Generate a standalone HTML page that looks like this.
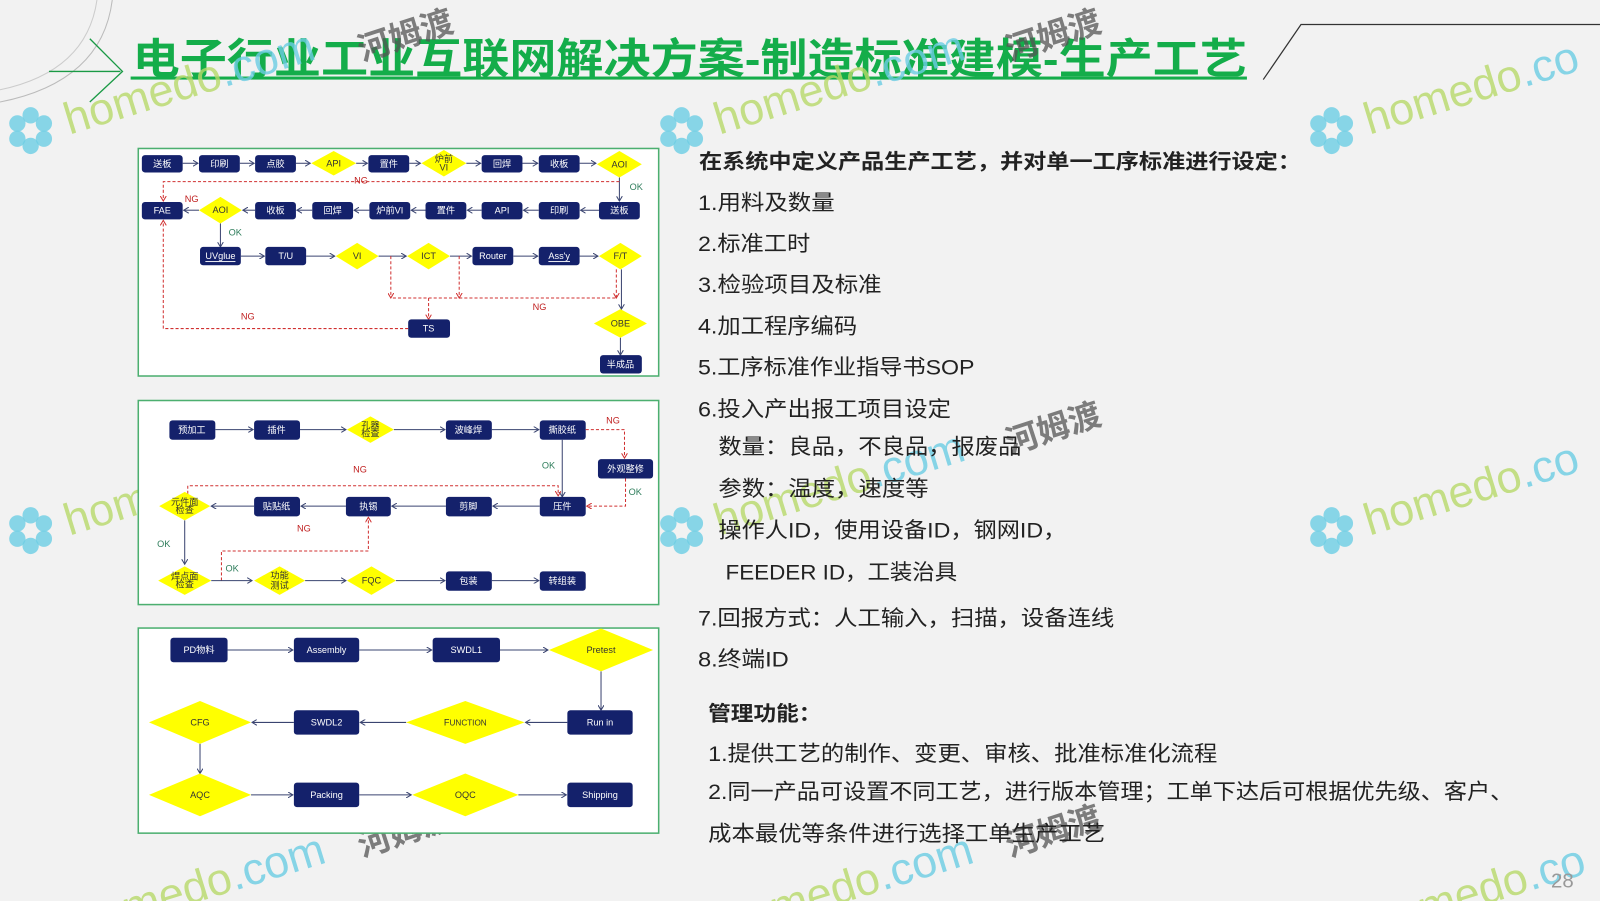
<!DOCTYPE html>
<html><head><meta charset="utf-8"><style>
html,body{margin:0;padding:0;background:#f2f2f2;}
svg{display:block}
text{font-family:"Liberation Sans","Noto Sans CJK SC",sans-serif;}
.n{fill:#14216b}
.nt{fill:#fff;font-size:9px;text-anchor:middle;dominant-baseline:central}
.d{fill:#ffff00}
.dt{fill:#333;font-size:9px;text-anchor:middle;dominant-baseline:central}
.a{stroke:#3a4470;stroke-width:1;fill:none;marker-end:url(#ar)}
.ra{stroke:#d03030;stroke-width:1;fill:none;stroke-dasharray:3,2;marker-end:url(#arr)}
.r{stroke:#d03030;stroke-width:1;fill:none;stroke-dasharray:3,2}
.ng{fill:#c02020;font-size:9px}
.ok{fill:#2e7d5b;font-size:9px}
.tx{fill:#222;font-size:21px}
.wm{font-size:44px;fill:#b8da6a;opacity:.8}
.wc{fill:#6ccde4;opacity:.8}
</style></head><body>
<svg width="1600" height="901" viewBox="0 0 1568 883" xmlns="http://www.w3.org/2000/svg">
<defs>
<marker id="ar" markerWidth="6" markerHeight="6" refX="5" refY="3" orient="auto"><path d="M0,0 L5,3 L0,6" fill="none" stroke="#3a4470"/></marker>
<marker id="arr" markerWidth="6" markerHeight="6" refX="5" refY="3" orient="auto"><path d="M0,0 L5,3 L0,6" fill="none" stroke="#d03030"/></marker>
</defs>
<rect width="1568" height="883" fill="#f2f2f2"/>
<path d="M110,0 Q100,80 0,100" stroke="#bbb" fill="none"/>
<path d="M95,0 Q85,70 0,88" stroke="#ccc" fill="none"/>
<path d="M48,70 L118,70 M88,38 L120,70 L88,100" stroke="#1a9a45" fill="none" stroke-width="1.3"/>
<path d="M1238,78 L1275,24 L1568,24" stroke="#333" fill="none" stroke-width="1.2"/>
<text x="130" y="72" font-size="41" font-weight="bold" fill="#14ad4a" textLength="1092" lengthAdjust="spacingAndGlyphs">电子行业工业互联网解决方案-制造标准建模-生产工艺</text>
<rect x="128" y="75" width="1094" height="3" fill="#14ad4a"/>

<!-- watermarks -->
<g>
<g transform="translate(30,128)"><circle r="8" cx="0" cy="-15" class="wc"/><circle r="8" cx="13" cy="-7" class="wc"/><circle r="8" cx="13" cy="8" class="wc"/><circle r="8" cx="0" cy="15" class="wc"/><circle r="8" cx="-13" cy="8" class="wc"/><circle r="8" cx="-13" cy="-7" class="wc"/></g>
<text class="wm" transform="translate(68,132) rotate(-17)">homedo<tspan fill="#6ccde4">.com</tspan></text>
<g transform="translate(668,128)"><circle r="8" cx="0" cy="-15" class="wc"/><circle r="8" cx="13" cy="-7" class="wc"/><circle r="8" cx="13" cy="8" class="wc"/><circle r="8" cx="0" cy="15" class="wc"/><circle r="8" cx="-13" cy="8" class="wc"/><circle r="8" cx="-13" cy="-7" class="wc"/></g>
<text class="wm" transform="translate(705,132) rotate(-17)">homedo<tspan fill="#6ccde4">.com</tspan></text>
<g transform="translate(1305,128)"><circle r="8" cx="0" cy="-15" class="wc"/><circle r="8" cx="13" cy="-7" class="wc"/><circle r="8" cx="13" cy="8" class="wc"/><circle r="8" cx="0" cy="15" class="wc"/><circle r="8" cx="-13" cy="8" class="wc"/><circle r="8" cx="-13" cy="-7" class="wc"/></g>
<text class="wm" transform="translate(1342,132) rotate(-17)">homedo<tspan fill="#6ccde4">.co</tspan></text>
<g transform="translate(30,520)"><circle r="8" cx="0" cy="-15" class="wc"/><circle r="8" cx="13" cy="-7" class="wc"/><circle r="8" cx="13" cy="8" class="wc"/><circle r="8" cx="0" cy="15" class="wc"/><circle r="8" cx="-13" cy="8" class="wc"/><circle r="8" cx="-13" cy="-7" class="wc"/></g>
<text class="wm" transform="translate(68,525) rotate(-17)">homedo<tspan fill="#6ccde4">.com</tspan></text>
<g transform="translate(668,520)"><circle r="8" cx="0" cy="-15" class="wc"/><circle r="8" cx="13" cy="-7" class="wc"/><circle r="8" cx="13" cy="8" class="wc"/><circle r="8" cx="0" cy="15" class="wc"/><circle r="8" cx="-13" cy="8" class="wc"/><circle r="8" cx="-13" cy="-7" class="wc"/></g>
<text class="wm" transform="translate(705,525) rotate(-17)">homedo<tspan fill="#6ccde4">.com</tspan></text>
<g transform="translate(1305,520)"><circle r="8" cx="0" cy="-15" class="wc"/><circle r="8" cx="13" cy="-7" class="wc"/><circle r="8" cx="13" cy="8" class="wc"/><circle r="8" cx="0" cy="15" class="wc"/><circle r="8" cx="-13" cy="8" class="wc"/><circle r="8" cx="-13" cy="-7" class="wc"/></g>
<text class="wm" transform="translate(1342,525) rotate(-17)">homedo<tspan fill="#6ccde4">.co</tspan></text>
<text class="wm" transform="translate(125,905) rotate(-17)">medo<tspan fill="#6ccde4">.com</tspan></text>
<text class="wm" transform="translate(760,905) rotate(-17)">medo<tspan fill="#6ccde4">.com</tspan></text>
<text class="wm" transform="translate(1395,905) rotate(-17)">medo<tspan fill="#6ccde4">.co</tspan></text>
<g fill="#555" opacity="0.75" font-size="32" font-weight="bold">
<text transform="translate(355,60) rotate(-18)">河姆渡</text>
<text transform="translate(990,60) rotate(-18)">河姆渡</text>
<text transform="translate(355,445) rotate(-18)">河姆渡</text>
<text transform="translate(990,445) rotate(-18)">河姆渡</text>
<text transform="translate(355,840) rotate(-18)">河姆渡</text>
<text transform="translate(990,840) rotate(-18)">河姆渡</text>
</g>
</g>

<!-- Diagram 1 -->
<rect x="135.5" y="145.5" width="510" height="223" fill="#fff" stroke="#4caf70" stroke-width="1.5"/>
<g>
<rect class="n" x="139" y="152" width="40" height="17" rx="3"/><text class="nt" x="159" y="160.5">送板</text>
<rect class="n" x="195" y="152" width="40" height="17" rx="3"/><text class="nt" x="215" y="160.5">印刷</text>
<rect class="n" x="250" y="152" width="40" height="17" rx="3"/><text class="nt" x="270" y="160.5">点胶</text>
<polygon class="d" points="305,160 327,148 349,160 327,172"/><text class="dt" x="327" y="160">API</text>
<rect class="n" x="361" y="152" width="40" height="17" rx="3"/><text class="nt" x="381" y="160.5">置件</text>
<polygon class="d" points="413,160 435,147 457,160 435,173"/><text class="dt" x="435" y="156" font-size="6">炉前</text><text class="dt" x="435" y="164" font-size="6">VI</text>
<rect class="n" x="472" y="152" width="40" height="17" rx="3"/><text class="nt" x="492" y="160.5">回焊</text>
<rect class="n" x="528" y="152" width="40" height="17" rx="3"/><text class="nt" x="548" y="160.5">收板</text>
<polygon class="d" points="585,161 607,148 629,161 607,174"/><text class="dt" x="607" y="161">AOI</text>
<path class="a" d="M179,160 H194"/><path class="a" d="M235,160 H249"/><path class="a" d="M290,160 H304"/><path class="a" d="M349,160 H360"/><path class="a" d="M401,160 H412"/><path class="a" d="M457,160 H471"/><path class="a" d="M512,160 H527"/><path class="a" d="M568,160 H584"/>
<path class="a" d="M607,174 V197"/>
<text class="ok" x="617" y="186">OK</text>
<path class="ra" d="M607,178 H160 V197"/>
<text class="ng" x="347" y="180">NG</text>
<rect class="n" x="139" y="198" width="40" height="17" rx="3"/><text class="nt" x="159" y="206.5">FAE</text>
<polygon class="d" points="195,206 216,193 237,206 216,219"/><text class="dt" x="216" y="206" font-size="8">AOI</text>
<rect class="n" x="250" y="198" width="40" height="17" rx="3"/><text class="nt" x="270" y="206.5">收板</text>
<rect class="n" x="306" y="198" width="40" height="17" rx="3"/><text class="nt" x="326" y="206.5">回焊</text>
<rect class="n" x="362" y="198" width="40" height="17" rx="3"/><text class="nt" x="382" y="206.5">炉前VI</text>
<rect class="n" x="417" y="198" width="40" height="17" rx="3"/><text class="nt" x="437" y="206.5">置件</text>
<rect class="n" x="472" y="198" width="40" height="17" rx="3"/><text class="nt" x="492" y="206.5">API</text>
<rect class="n" x="528" y="198" width="40" height="17" rx="3"/><text class="nt" x="548" y="206.5">印刷</text>
<rect class="n" x="587" y="198" width="40" height="17" rx="3"/><text class="nt" x="607" y="206.5">送板</text>
<path class="a" d="M587,206 H569"/><path class="a" d="M528,206 H513"/><path class="a" d="M472,206 H458"/><path class="a" d="M417,206 H403"/><path class="a" d="M362,206 H347"/><path class="a" d="M306,206 H291"/><path class="a" d="M250,206 H238"/><path class="a" d="M195,206 H180"/>
<text class="ng" x="181" y="198">NG</text>
<path class="a" d="M216,219 V242"/>
<text class="ok" x="224" y="231">OK</text>
<rect class="n" x="196" y="242" width="40" height="18" rx="3"/><text class="nt" x="216" y="251" text-decoration="underline">UVglue</text>
<rect class="n" x="260" y="242" width="40" height="18" rx="3"/><text class="nt" x="280" y="251">T/U</text>
<polygon class="d" points="329,251 350,238 371,251 350,264"/><text class="dt" x="350" y="251">VI</text>
<polygon class="d" points="399,251 420,238 441,251 420,264"/><text class="dt" x="420" y="251">ICT</text>
<rect class="n" x="463" y="242" width="40" height="18" rx="3"/><text class="nt" x="483" y="251">Router</text>
<rect class="n" x="528" y="242" width="40" height="18" rx="3"/><text class="nt" x="548" y="251" text-decoration="underline">Ass'y</text>
<polygon class="d" points="587,251 608,238 629,251 608,264"/><text class="dt" x="608" y="251">F/T</text>
<path class="a" d="M236,251 H259"/><path class="a" d="M300,251 H328"/><path class="a" d="M371,251 H398"/><path class="a" d="M441,251 H462"/><path class="a" d="M503,251 H527"/><path class="a" d="M568,251 H586"/>
<path class="a" d="M609,264 V303"/>
<path class="ra" d="M383,251 V292"/><path class="ra" d="M450,251 V292"/><path class="ra" d="M604,264 V292"/><path class="r" d="M603,292 H383"/><path class="ra" d="M420,292 V313"/>
<text class="ng" x="522" y="304">NG</text>
<rect class="n" x="400" y="313" width="41" height="18" rx="3"/><text class="nt" x="420" y="322">TS</text>
<path class="ra" d="M400,322 H160 V216"/>
<text class="ng" x="236" y="313">NG</text>
<polygon class="d" points="582,317 608,303 634,317 608,331"/><text class="dt" x="608" y="317">OBE</text>
<path class="a" d="M608,331 V348"/>
<rect class="n" x="588" y="348" width="41" height="18" rx="3"/><text class="nt" x="608" y="357">半成品</text>
</g>

<!-- Diagram 2 -->
<rect x="135.5" y="392.5" width="510" height="200" fill="#fff" stroke="#4caf70" stroke-width="1.5"/>
<g>
<rect class="n" x="166" y="412" width="45" height="19" rx="3"/><text class="nt" x="188" y="421.5" font-size="10">预加工</text>
<rect class="n" x="249" y="412" width="45" height="19" rx="3"/><text class="nt" x="271" y="421.5" font-size="10">插件</text>
<polygon class="d" points="340,421 363,408 386,421 363,434"/><text class="dt" x="363" y="417" font-size="6">孔器</text><text class="dt" x="363" y="425" font-size="6">检查</text>
<rect class="n" x="437" y="412" width="45" height="19" rx="3"/><text class="nt" x="459" y="421.5" font-size="10">波峰焊</text>
<rect class="n" x="529" y="412" width="45" height="19" rx="3"/><text class="nt" x="551" y="421.5" font-size="10">撕胶纸</text>
<path class="a" d="M211,421 H248"/><path class="a" d="M294,421 H339"/><path class="a" d="M386,421 H436"/><path class="a" d="M482,421 H528"/>
<path class="ra" d="M574,421 H612 V449"/><text class="ng" x="594" y="415">NG</text>
<rect class="n" x="586" y="450" width="54" height="19" rx="3"/><text class="nt" x="613" y="459.5" font-size="10">外观整修</text>
<path class="a" d="M551,431 V487"/><text class="ok" x="531" y="459">OK</text>
<path class="ra" d="M613,469 V496 H575"/><text class="ok" x="616" y="485">OK</text>
<path class="ra" d="M184,484 V476 H547 V486"/><text class="ng" x="346" y="463">NG</text>
<rect class="n" x="529" y="487" width="45" height="19" rx="3"/><text class="nt" x="551" y="496.5" font-size="10">压件</text>
<rect class="n" x="437" y="487" width="45" height="19" rx="3"/><text class="nt" x="459" y="496.5" font-size="10">剪脚</text>
<rect class="n" x="339" y="487" width="44" height="19" rx="3"/><text class="nt" x="361" y="496.5" font-size="10">执锡</text>
<rect class="n" x="249" y="487" width="45" height="19" rx="3"/><text class="nt" x="271" y="496.5" font-size="10">贴贴纸</text>
<polygon class="d" points="156,496 181,482 206,496 181,510"/><text class="dt" x="181" y="492" font-size="5">元件面</text><text class="dt" x="181" y="500" font-size="5">检查</text>
<path class="a" d="M529,496 H483"/><path class="a" d="M437,496 H384"/><path class="a" d="M339,496 H295"/><path class="a" d="M249,496 H207"/>
<path class="a" d="M181,510 V553"/><text class="ok" x="154" y="536">OK</text>
<polygon class="d" points="155,569 181,555 207,569 181,583"/><text class="dt" x="181" y="565" font-size="5">焊点面</text><text class="dt" x="181" y="573" font-size="5">检查</text>
<path class="ra" d="M217,569 V540 H361 V507"/><text class="ng" x="291" y="521">NG</text>
<path class="a" d="M207,569 H247"/><text class="ok" x="221" y="560">OK</text>
<polygon class="d" points="249,569 274,555 299,569 274,583"/><text class="dt" x="274" y="564" font-size="7">功能</text><text class="dt" x="274" y="574" font-size="7">测试</text>
<polygon class="d" points="340,569 364,555 388,569 364,583"/><text class="dt" x="364" y="569">FQC</text>
<rect class="n" x="437" y="560" width="45" height="19" rx="3"/><text class="nt" x="459" y="569.5" font-size="10">包装</text>
<rect class="n" x="529" y="560" width="45" height="19" rx="3"/><text class="nt" x="551" y="569.5" font-size="10">转组装</text>
<path class="a" d="M299,569 H339"/><path class="a" d="M388,569 H436"/><path class="a" d="M482,569 H528"/>
</g>

<!-- Diagram 3 -->
<rect x="135.5" y="615.5" width="510" height="201" fill="#fff" stroke="#4caf70" stroke-width="1.5"/>
<g>
<rect class="n" x="167" y="625" width="56" height="24" rx="3"/><text class="nt" x="195" y="637" font-size="13">PD物料</text>
<rect class="n" x="288" y="625" width="64" height="24" rx="3"/><text class="nt" x="320" y="637" font-size="9">Assembly</text>
<rect class="n" x="424" y="625" width="66" height="24" rx="3"/><text class="nt" x="457" y="637" font-size="13">SWDL1</text>
<polygon class="d" points="538,637 589,616 640,637 589,658"/><text class="dt" x="589" y="637" font-size="12">Pretest</text>
<path class="a" d="M223,637 H287"/><path class="a" d="M352,637 H423"/><path class="a" d="M490,637 H537"/>
<path class="a" d="M589,658 V696"/>
<rect class="n" x="556" y="696" width="64" height="24" rx="3"/><text class="nt" x="588" y="708" font-size="14">Run in</text>
<polygon class="d" points="398,708 456,687 514,708 456,729"/><text class="dt" x="456" y="708" font-size="10">F<tspan font-size="8">UNCTION</tspan></text>
<rect class="n" x="288" y="696" width="64" height="24" rx="3"/><text class="nt" x="320" y="708" font-size="13">SWDL2</text>
<polygon class="d" points="146,708 196,687 246,708 196,729"/><text class="dt" x="196" y="708" font-size="12">CFG</text>
<path class="a" d="M556,708 H515"/><path class="a" d="M398,708 H353"/><path class="a" d="M288,708 H247"/>
<path class="a" d="M196,729 V758"/>
<polygon class="d" points="146,779 196,758 246,779 196,800"/><text class="dt" x="196" y="779" font-size="12">AQC</text>
<rect class="n" x="288" y="767" width="64" height="24" rx="3"/><text class="nt" x="320" y="779" font-size="13">Packing</text>
<polygon class="d" points="404,779 456,758 508,779 456,800"/><text class="dt" x="456" y="779" font-size="12">OQC</text>
<rect class="n" x="556" y="767" width="64" height="24" rx="3"/><text class="nt" x="588" y="779" font-size="12">Shipping</text>
<path class="a" d="M246,779 H287"/><path class="a" d="M352,779 H403"/><path class="a" d="M508,779 H555"/>
</g>

<!-- Right text -->
<g class="tx" lengthAdjust="spacingAndGlyphs">
<text x="685" y="165" font-weight="bold" font-size="20" textLength="590" lengthAdjust="spacingAndGlyphs">在系统中定义产品生产工艺，并对单一工序标准进行设定：</text>
<text x="684" y="206" textLength="134" lengthAdjust="spacingAndGlyphs">1.用料及数量</text>
<text x="684" y="246" textLength="110" lengthAdjust="spacingAndGlyphs">2.标准工时</text>
<text x="684" y="286" textLength="180" lengthAdjust="spacingAndGlyphs">3.检验项目及标准</text>
<text x="684" y="327" textLength="156" lengthAdjust="spacingAndGlyphs">4.加工程序编码</text>
<text x="684" y="367" textLength="271" lengthAdjust="spacingAndGlyphs">5.工序标准作业指导书SOP</text>
<text x="684" y="408" textLength="248" lengthAdjust="spacingAndGlyphs">6.投入产出报工项目设定</text>
<text x="704" y="445" textLength="297" lengthAdjust="spacingAndGlyphs">数量：良品，不良品，报废品</text>
<text x="704" y="486" textLength="206" lengthAdjust="spacingAndGlyphs">参数：温度，速度等</text>
<text x="704" y="527" textLength="341" lengthAdjust="spacingAndGlyphs">操作人ID，使用设备ID，钢网ID，</text>
<text x="711" y="568" textLength="227" lengthAdjust="spacingAndGlyphs">FEEDER ID，工装治具</text>
<text x="684" y="613" textLength="408" lengthAdjust="spacingAndGlyphs">7.回报方式：人工输入，扫描，设备连线</text>
<text x="684" y="653" textLength="89" lengthAdjust="spacingAndGlyphs">8.终端ID</text>
<text x="694" y="706" font-weight="bold" font-size="20" textLength="111" lengthAdjust="spacingAndGlyphs">管理功能：</text>
<text x="694" y="746" textLength="499" lengthAdjust="spacingAndGlyphs">1.提供工艺的制作、变更、审核、批准标准化流程</text>
<text x="694" y="783" textLength="789" lengthAdjust="spacingAndGlyphs">2.同一产品可设置不同工艺，进行版本管理；工单下达后可根据优先级、客户、</text>
<text x="694" y="824" textLength="389" lengthAdjust="spacingAndGlyphs">成本最优等条件进行选择工单生产工艺</text>
</g>
<text x="1520" y="870" font-size="20" fill="#999">28</text>
</svg>
</body></html>
